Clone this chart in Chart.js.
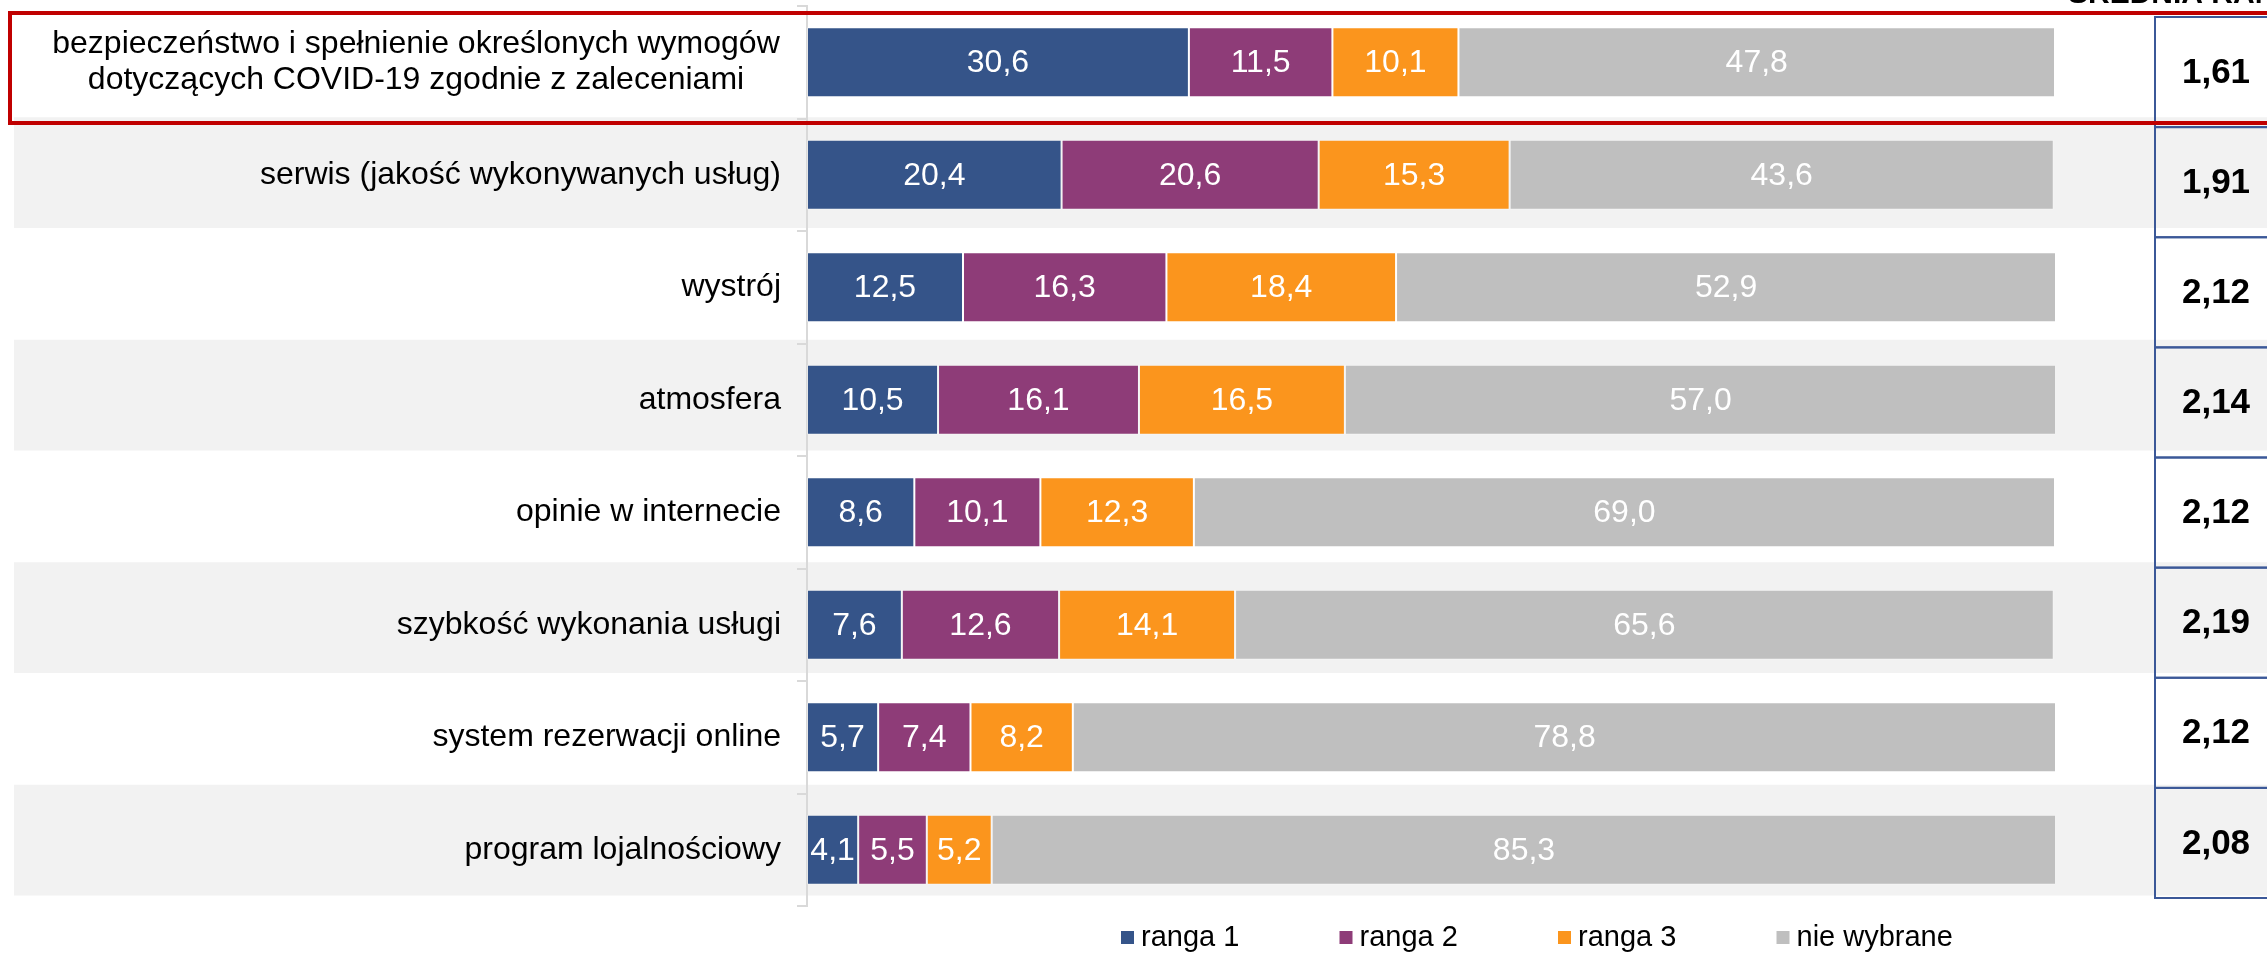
<!DOCTYPE html>
<html lang="pl">
<head>
<meta charset="utf-8">
<title>Rangi czynników</title>
<script src="https://cdn.jsdelivr.net/npm/chart.js@4.4.1/dist/chart.umd.min.js"></script>
<style>
    html, body { margin: 0; padding: 0; background: #fff; }
    #wrap { width: 2267px; height: 957px; position: relative; }
</style>
</head>
<body>
<div id="wrap"><canvas id="rangi"></canvas></div>
<script>
    // dane
    const kategorie = [
        ['bezpieczeństwo i spełnienie określonych wymogów', 'dotyczących COVID-19 zgodnie z zaleceniami'],
        'serwis (jakość wykonywanych usług)',
        'wystrój',
        'atmosfera',
        'opinie w internecie',
        'szybkość wykonania usługi',
        'system rezerwacji online',
        'program lojalnościowy'
    ];
    const ranga1 = [30.6, 20.4, 12.5, 10.5, 8.6, 7.6, 5.7, 4.1];
    const ranga2 = [11.5, 20.6, 16.3, 16.1, 10.1, 12.6, 7.4, 5.5];
    const ranga3 = [10.1, 15.3, 18.4, 16.5, 12.3, 14.1, 8.2, 5.2];
    const nieWybrane = [47.8, 43.6, 52.9, 57.0, 69.0, 65.6, 78.8, 85.3];
    const srednia = [1.61, 1.91, 2.12, 2.14, 2.12, 2.19, 2.12, 2.08];
    const naglowek = 'ŚREDNIA RANGA';

    const FONT = "'Liberation Sans', Arial, sans-serif";
    const fmt = (v, d) => v.toFixed(d).replace('.', ',');

    // szare pasy co drugi wiersz
    const pasy = {
        id: 'pasy',
        beforeDraw(chart) {
            const { ctx, chartArea } = chart;
            const h = (chartArea.bottom - chartArea.top - 10) / kategorie.length;
            ctx.save();
            ctx.fillStyle = '#f2f2f2';
            kategorie.forEach((k, i) => {
                if (i % 2 === 0) return;
                ctx.fillRect(14, chartArea.top + i * h, chart.width - 14, h - 0.5);
            });
            ctx.restore();
        }
    };

    // etykiety kategorii + wartości na słupkach
    const etykiety = {
        id: 'etykiety',
        afterDatasetsDraw(chart) {
            const { ctx, scales: { y } } = chart;
            ctx.save();
            ctx.font = '32px ' + FONT;
            ctx.fillStyle = '#000';
            ctx.textBaseline = 'middle';
            kategorie.forEach((k, i) => {
                const c = y.getPixelForValue(i);
                if (Array.isArray(k)) {
                    ctx.textAlign = 'center';
                    k.forEach((line, j) => ctx.fillText(line, 416, c + (j - (k.length - 1) / 2) * 36));
                } else {
                    ctx.textAlign = 'right';
                    ctx.fillText(k, 781, c);
                }
            });

            ctx.fillStyle = '#fff';
            ctx.textAlign = 'center';
            chart.data.datasets.forEach((ds, i) => {
                chart.getDatasetMeta(i).data.forEach((bar, j) => {
                    const p = bar.getCenterPoint();
                    ctx.fillText(fmt(ds.data[j], 1), p.x, p.y + 1);
                });
            });
            ctx.restore();
        }
    };

    // ramka, kolumna średnich, legenda
    const dodatki = {
        id: 'dodatki',
        afterDraw(chart) {
            const { ctx, chartArea } = chart;
            ctx.save();

            ctx.font = 'bold 30px ' + FONT;
            ctx.fillStyle = '#000';
            ctx.textAlign = 'left';
            ctx.textBaseline = 'alphabetic';
            ctx.fillText(naglowek, 2068, 3);

            const top = chartArea.top + 11;
            const bh = (chartArea.bottom - chartArea.top - 19) / srednia.length;
            ctx.strokeStyle = '#3b5898';
            ctx.lineWidth = 2;
            ctx.font = 'bold 35px ' + FONT;
            ctx.textAlign = 'center';
            ctx.textBaseline = 'middle';
            srednia.forEach((v, i) => {
                const yy = top + i * bh;
                ctx.strokeRect(2155, yy, 130, bh);
                ctx.fillText(fmt(v, 2), 2216, yy + bh / 2 + 1);
            });

            ctx.strokeStyle = '#c00000';
            ctx.lineWidth = 4;
            ctx.strokeRect(10, 13, chart.width + 20, 110);

            // legenda
            ctx.font = '29px ' + FONT;
            ctx.textAlign = 'left';
            chart.data.datasets.forEach((ds, i) => {
                const x = 1121 + i * 218.5;
                ctx.fillStyle = ds.backgroundColor;
                ctx.fillRect(x, 931, 13, 13);
                ctx.fillStyle = '#000';
                ctx.fillText(ds.label, x + 20, 938);
            });
            ctx.restore();
        }
    };

    const ctx = document.getElementById('rangi').getContext('2d');
    new Chart(ctx, {
        type: 'bar',
        data: {
            labels: kategorie,
            datasets: [
                { label: 'ranga 1', data: ranga1, backgroundColor: '#355489' },
                { label: 'ranga 2', data: ranga2, backgroundColor: '#8e3c78' },
                { label: 'ranga 3', data: ranga3, backgroundColor: '#fb951d' },
                { label: 'nie wybrane', data: nieWybrane, backgroundColor: '#bfbfbf' }
            ].map(d => Object.assign(d, {
                borderColor: 'rgba(255, 255, 255, 0.35)',
                borderWidth: 1,
                borderSkipped: false,
                barPercentage: 0.622,
                categoryPercentage: 1
            }))
        },
        options: {
            indexAxis: 'y',
            responsive: true,
            maintainAspectRatio: false,
            animation: false,
            layout: { padding: { top: 6, bottom: 51, right: 212, left: 0 } },
            scales: {
                x: { stacked: true, min: 0, max: 100, display: false },
                y: {
                    stacked: true,
                    ticks: { display: false },
                    grid: { drawOnChartArea: false, drawTicks: true, tickLength: 10, color: '#d9d9d9', lineWidth: 2, offset: true },
                    border: { display: true, color: '#d9d9d9', width: 2 },
                    afterFit: s => { s.width = 807; }
                }
            },
            plugins: {
                legend: { display: false },
                tooltip: { enabled: false }
            }
        },
        plugins: [pasy, etykiety, dodatki]
    });
</script>
</body>
</html>
